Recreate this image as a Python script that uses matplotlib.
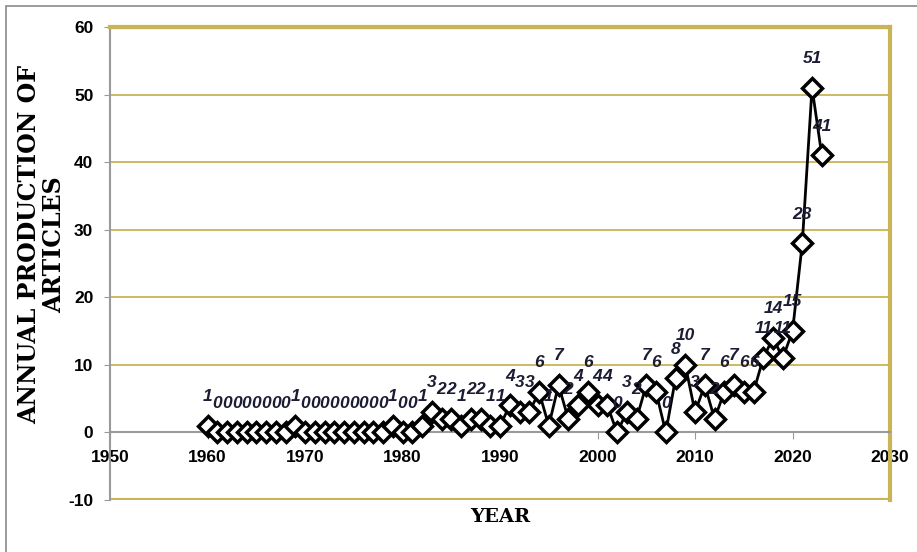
import matplotlib.pyplot as plt
from matplotlib.patches import Rectangle

# annual production of articles
years = list(range(1960, 2024))
articles = [1, 0, 0, 0, 0, 0, 0, 0, 0, 1,
            0, 0, 0, 0, 0, 0, 0, 0, 0, 1,
            0, 0, 1, 3, 2, 2, 1, 2, 2, 1,
            1, 4, 3, 3, 6, 1, 7, 2, 4, 6,
            4, 4, 0, 3, 2, 7, 6, 0, 8, 10,
            3, 7, 2, 6, 7, 6, 6, 11, 14, 11,
            15, 28, 51, 41]

x_ticks = list(range(1950, 2031, 10))
y_ticks = list(range(-10, 61, 10))

plt.rcParams['axes.unicode_minus'] = False

gold = '#c9b458'
grey = '#9a9a9a'
tick_font = ['Liberation Sans', 'DejaVu Sans']

fig = plt.figure(figsize=(9.17, 5.52), dpi=100)
fig.patches.append(Rectangle((0.006, -0.01), 1.1, 1.0, transform=fig.transFigure,
                             fill=False, edgecolor='#8a8a8a', linewidth=1.2))
ax = fig.add_axes([0.12, 0.0942, 0.8506, 0.857])

for y in range(10, 61, 10):
    ax.axhline(y, color=gold, linewidth=1.3, zorder=0)
ax.axhline(-10, color=gold, linewidth=3, zorder=0)
ax.axhline(60, color=gold, linewidth=3, zorder=0)

ax.plot(years, articles, color='black', linewidth=2, marker='D', markersize=10.5,
        markerfacecolor='white', markeredgecolor='black', markeredgewidth=2.5,
        zorder=3, clip_on=False)

for x, v in zip(years, articles):
    ax.annotate(str(v), (x, v), xytext=(0, 21), textcoords='offset points',
                ha='center', va='center', fontsize=12.5, fontweight='bold',
                fontstyle='italic', color='#1c1c34', family=tick_font, zorder=4)

ax.set_xlim(1950, 2030)
ax.set_ylim(-10, 60)
ax.set_xticks(x_ticks)
ax.set_yticks(y_ticks)

ax.spines['bottom'].set_position(('data', 0))
ax.spines['bottom'].set_color(grey)
ax.spines['bottom'].set_linewidth(1.5)
ax.spines['left'].set_color(grey)
ax.spines['left'].set_linewidth(1.5)
ax.spines['top'].set_color(gold)
ax.spines['top'].set_linewidth(3)
ax.spines['right'].set_color(gold)
ax.spines['right'].set_linewidth(3)

ax.tick_params(axis='x', direction='out', length=5, color=grey, pad=8)
ax.tick_params(axis='y', direction='out', length=4, color=grey, pad=8)
for lab in ax.get_xticklabels() + ax.get_yticklabels():
    lab.set_family(tick_font)
    lab.set_fontweight('bold')
    lab.set_fontsize(12.5)

ax.text(0.5, -0.036, 'YEAR', transform=ax.transAxes, ha='center', va='center',
        fontsize=14, fontweight='bold', family='DejaVu Serif')
fig.text(0.045, 0.557, 'ANNUAL PRODUCTION OF\nARTICLES', rotation=90,
         ha='center', va='center', fontsize=17, fontweight='bold',
         family='DejaVu Serif', linespacing=1.05)

fig.savefig('out.png', dpi=100)
